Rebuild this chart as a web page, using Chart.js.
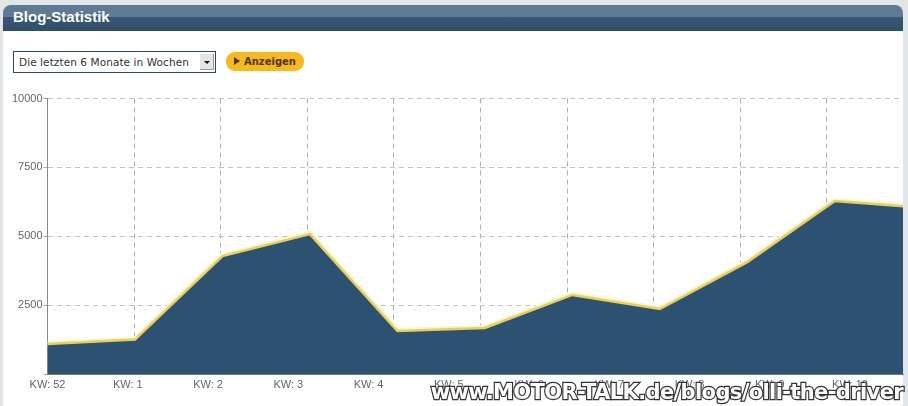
<!DOCTYPE html>
<html>
<head>
<meta charset="utf-8">
<title>Blog-Statistik</title>
<script src="https://cdn.jsdelivr.net/npm/chart.js@4/dist/chart.umd.min.js"></script>
<style>
  html, body { margin: 0; padding: 0; background: #e2e6e8; overflow: hidden; }
  #page { position: relative; width: 908px; height: 406px; overflow: hidden; }
  #panel { position: absolute; left: 3px; top: 31px; width: 900px; height: 375px; background: #fff; }
  #head {
    position: absolute; left: 3px; top: 5px; width: 900px; height: 26px;
    border-radius: 8px 8px 0 0;
    background: linear-gradient(#5f7a94 0, #5f7a94 12px, #3a5872 12px, #2f4e69 100%);
    color: #fff; font: bold 15px "Liberation Sans", sans-serif; line-height: 24px; text-indent: 10px;
  }
  #picker {
    position: absolute; left: 13px; top: 51px; width: 201px; height: 20px;
    border: 1px solid #2d4a5c; background: #fff; color: #333;
    font: 10.5px "DejaVu Sans", sans-serif; line-height: 20px; text-indent: 5px; letter-spacing: .08px;
  }
  #picker i {
    position: absolute; right: 1px; top: 2px; width: 13px; height: 15px;
    background: #e4e4e4; border-right: 1px solid #999; border-bottom: 1px solid #999;
  }
  #picker i:after {
    content: ""; position: absolute; left: 4px; top: 7px;
    border: 3px solid transparent; border-top: 3px solid #111; border-bottom: 0;
  }
  #go {
    position: absolute; left: 226px; top: 52px; width: 78px; height: 19px; border-radius: 9px;
    background: #f8b91f; color: #4a3510;
    font: bold 10px "DejaVu Sans", sans-serif; line-height: 19px; text-indent: 18px;
  }
  #go:before {
    content: ""; position: absolute; left: 8px; top: 5px;
    border: 4.5px solid transparent; border-left: 6px solid #4a3510; border-right: 0;
  }
  #chart { position: absolute; left: 0; top: 0; }
  #mark {
    position: absolute; right: 5px; top: 380px; white-space: nowrap; color: #fff;
    font: bold 21px "DejaVu Sans", sans-serif; letter-spacing: -.62px;
    -webkit-text-stroke: 2.4px #333; paint-order: stroke fill;
  }
</style>
</head>
<body>
<div id="page">
  <div id="panel"></div>
  <div id="head">Blog-Statistik</div>
  <div id="picker">Die letzten 6 Monate in Wochen<i></i></div>
  <div id="go">Anzeigen</div>
  <canvas id="chart" width="908" height="406"></canvas>
  <div id="mark">www.MOTOR-TALK.de/blogs/olli-the-driver</div>
</div>
<script>
const weekLabels = ["KW: 52", "KW: 1", "KW: 2", "KW: 3", "KW: 4", "KW: 5", "KW: 6", "KW: 7", "KW: 8", "KW: 9", "KW: 10"];
const visits = [1090, 1250, 4280, 5080, 1560, 1670, 2870, 2360, 4060, 6280, 6040];
const yTicks = [2500, 5000, 7500, 10000];

const gridDash = [5, 4];
const points = visits.map((v, i) => ({ x: i, y: v }));

new Chart(document.getElementById("chart"), {
  type: "line",
  data: {
    datasets: [
      // pale glow along the top of the line
      { data: points, borderColor: "#fbf5cf", borderWidth: 6, fill: false, tension: 0, pointRadius: 0, order: 2 },
      {
        data: points,
        borderColor: "#e8cf5c",
        borderWidth: 2.5,
        backgroundColor: "#2d5170",
        fill: "origin",
        tension: 0,
        pointRadius: 0,
        order: 1,
      },
    ],
  },
  options: {
    responsive: false,
    animation: false,
    devicePixelRatio: 1,
    layout: { padding: { top: 98.5, right: 5, left: 0, bottom: 0 } },
    plugins: { legend: { display: false }, tooltip: { enabled: false } },
    scales: {
      // the curve, the vertical grid and the week labels each have their own spacing
      x: { type: "linear", min: 0, max: 9.78, display: false },
      xGrid: {
        type: "linear", position: "bottom", min: 0, max: 9.88,
        grid: { color: "#b0b0b0", drawTicks: false },
        border: { display: false, dash: gridDash },
        ticks: { display: false, stepSize: 1, includeBounds: false },
        afterFit: (s) => { s.height = 0; },
      },
      xWeeks: {
        type: "linear", position: "bottom", min: 0, max: 10.66,
        grid: { display: false, drawTicks: false },
        border: { color: "#777777" },
        ticks: {
          stepSize: 1,
          includeBounds: false,
          autoSkip: false,
          maxRotation: 0,
          padding: 4,
          color: "#666666",
          font: { family: "Liberation Sans", size: 11 },
          callback: (v) => weekLabels[v],
        },
        afterFit: (s) => { s.height = 32; },
      },
      y: {
        min: 0,
        max: 10000,
        grid: { color: "#c4c4c4", tickLength: 4, tickColor: "#aaaaaa" },
        border: { color: "#888888", width: 1, dash: gridDash },
        ticks: {
          stepSize: 2500,
          padding: 1,
          color: "#666666",
          font: { family: "Liberation Sans", size: 11 },
          callback: (v) => (yTicks.includes(v) ? String(v) : ""),
        },
        afterFit: (s) => { s.width = 47.5; },
      },
    },
  },
});
</script>
</body>
</html>
